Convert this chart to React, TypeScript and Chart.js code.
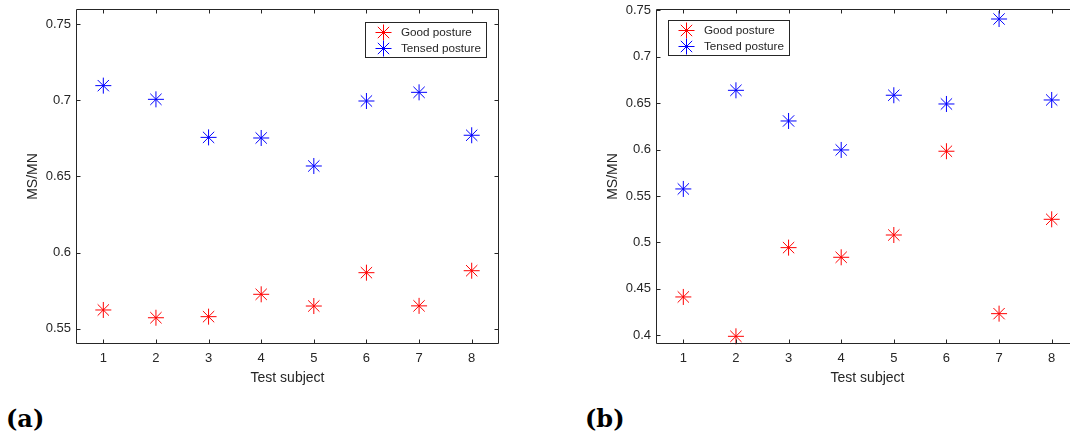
import React, { useEffect, useRef } from "react";
import { Chart, registerables } from "chart.js";

Chart.register(...registerables);

// ---- data ----
const subjects = [1, 2, 3, 4, 5, 6, 7, 8];
const xTickLabels = ["1", "2", "3", "4", "5", "6", "7", "8"];

const goodA = [0.5623, 0.5572, 0.5579, 0.5726, 0.5649, 0.5868, 0.565, 0.5881];
const tensedA = [0.7097, 0.7007, 0.6757, 0.6753, 0.6569, 0.6996, 0.7053, 0.6771];

const goodB = [0.4413, 0.3989, 0.4944, 0.484, 0.508, 0.5982, 0.4233, 0.5249];
const tensedB = [0.5576, 0.6638, 0.6308, 0.5996, 0.6585, 0.6491, 0.7406, 0.6534];

const yTicksA = [0.55, 0.6, 0.65, 0.7, 0.75];
const yTickLabelsA = ["0.55", "0.6", "0.65", "0.7", "0.75"];
const yTicksB = [0.4, 0.45, 0.5, 0.55, 0.6, 0.65, 0.7, 0.75];
const yTickLabelsB = ["0.4", "0.45", "0.5", "0.55", "0.6", "0.65", "0.7", "0.75"];

const seriesNames = ["Good posture", "Tensed posture"];
const seriesColors = ["#ff0000", "#0000ff"];

const AXIS_COLOR = "#262626";
const SANS = '"Liberation Sans", Arial, Helvetica, sans-serif';

// ---- plugins ----
const framePlugin = {
  id: "matlabFrame",
  afterDatasetsDraw(chart: any) {
    const { ctx, chartArea } = chart;
    const xs = chart.scales.x;
    const ys = chart.scales.y;
    const L = Math.round(chartArea.left) - 0.5;
    const T = Math.round(chartArea.top) - 0.5;
    const R = Math.round(chartArea.right) + 0.5;
    const B = Math.round(chartArea.bottom) + 0.5;
    const tl = 4;
    ctx.save();
    ctx.strokeStyle = AXIS_COLOR;
    ctx.lineWidth = 1;
    ctx.beginPath();
    ctx.moveTo(L, T);
    ctx.lineTo(R, T);
    ctx.lineTo(R, B);
    ctx.lineTo(L, B);
    ctx.closePath();
    for (const t of xs.ticks) {
      const px = Math.round(xs.getPixelForValue(t.value)) + 0.5;
      ctx.moveTo(px, B);
      ctx.lineTo(px, B - tl);
      ctx.moveTo(px, T);
      ctx.lineTo(px, T + tl);
    }
    for (const t of ys.ticks) {
      const py = Math.round(ys.getPixelForValue(t.value)) + 0.5;
      ctx.moveTo(L, py);
      ctx.lineTo(L + tl, py);
      ctx.moveTo(R, py);
      ctx.lineTo(R - tl, py);
    }
    ctx.stroke();
    ctx.restore();
  },
};

function drawStar(ctx: CanvasRenderingContext2D, x: number, y: number, r: number, color: string) {
  ctx.save();
  ctx.strokeStyle = color;
  ctx.lineWidth = 1;
  ctx.beginPath();
  ctx.moveTo(x - r, y);
  ctx.lineTo(x + r, y);
  ctx.moveTo(x, y - r);
  ctx.lineTo(x, y + r);
  const d = r * Math.SQRT1_2;
  ctx.moveTo(x - d, y - d);
  ctx.lineTo(x + d, y + d);
  ctx.moveTo(x + d, y - d);
  ctx.lineTo(x - d, y + d);
  ctx.stroke();
  ctx.restore();
}

const legendPlugin = {
  id: "matlabLegend",
  afterDraw(chart: any, _args: any, opts: any) {
    const { ctx, chartArea } = chart;
    ctx.save();
    ctx.font = `11.7px ${SANS}`;
    let maxW = 0;
    for (const n of seriesNames) maxW = Math.max(maxW, ctx.measureText(n).width);
    const w = Math.round(maxW + 36 + 5);
    const h = 35;
    let left: number;
    if (opts.anchor === "right") left = Math.round(chartArea.right - opts.dx - w);
    else left = Math.round(chartArea.left + opts.dx);
    const top = Math.round(chartArea.top + opts.dy);
    ctx.fillStyle = "#ffffff";
    ctx.fillRect(left, top, w, h);
    ctx.strokeStyle = AXIS_COLOR;
    ctx.lineWidth = 1;
    ctx.strokeRect(left + 0.5, top + 0.5, w, h);
    const rows = [10, 26];
    seriesNames.forEach((name, i) => {
      const cy = top + rows[i] + 0.5;
      drawStar(ctx, left + 18.5, cy, 8, seriesColors[i]);
      ctx.fillStyle = AXIS_COLOR;
      ctx.textAlign = "left";
      ctx.textBaseline = "middle";
      ctx.fillText(name, left + 36, cy);
    });
    ctx.restore();
  },
};

// ---- panel ----
type PanelProps = {
  left: number;
  canvasW: number;
  canvasH: number;
  good: number[];
  tensed: number[];
  yMin: number;
  yMax: number;
  yTicks: number[];
  yLabels: string[];
  padRight: number;
  yAxisWidth: number;
  yTitlePad: number;
  legend: { anchor: string; dx: number; dy: number };
};

function Panel(p: PanelProps) {
  const ref = useRef<HTMLCanvasElement | null>(null);
  useEffect(() => {
    if (!ref.current) return;
    const mk = (vals: number[]) => subjects.map((x, i) => ({ x, y: vals[i] }));
    const chart = new Chart(ref.current, {
      type: "scatter",
      data: {
        datasets: [
          {
            label: seriesNames[0],
            data: mk(p.good),
            pointStyle: "star",
            pointRadius: 8,
            pointHoverRadius: 8,
            borderColor: seriesColors[0],
            backgroundColor: seriesColors[0],
            borderWidth: 1,
            clip: false as any,
          },
          {
            label: seriesNames[1],
            data: mk(p.tensed),
            pointStyle: "star",
            pointRadius: 8,
            pointHoverRadius: 8,
            borderColor: seriesColors[1],
            backgroundColor: seriesColors[1],
            borderWidth: 1,
            clip: false as any,
          },
        ],
      },
      options: {
        responsive: false,
        animation: false,
        devicePixelRatio: 1,
        events: [],
        layout: { padding: { left: 0, top: 10, right: p.padRight, bottom: 0 } },
        plugins: {
          legend: { display: false },
          tooltip: { enabled: false },
          matlabLegend: p.legend,
        } as any,
        scales: {
          x: {
            type: "linear",
            min: 0.5,
            max: 8.5,
            grid: { display: false, drawTicks: false },
            border: { display: false },
            afterBuildTicks: (s: any) => {
              s.ticks = subjects.map((v) => ({ value: v }));
            },
            ticks: {
              padding: 7.5,
              autoSkip: false,
              maxRotation: 0,
              color: AXIS_COLOR,
              font: { family: SANS, size: 13 },
              callback: (_v: any, i: number) => xTickLabels[i],
            },
            title: {
              display: true,
              text: "Test subject",
              color: AXIS_COLOR,
              font: { family: SANS, size: 14 },
              padding: { top: 0, bottom: 13.3 },
            },
            afterFit: (s: any) => {
              s.height = p.canvasH - 343;
              s.paddingLeft = 0;
              s.paddingRight = 0;
              s.paddingTop = 0;
              s.paddingBottom = 0;
            },
          },
          y: {
            type: "linear",
            min: p.yMin,
            max: p.yMax,
            grid: { display: false, drawTicks: false },
            border: { display: false },
            afterBuildTicks: (s: any) => {
              s.ticks = p.yTicks.map((v) => ({ value: v }));
            },
            ticks: {
              padding: 6,
              autoSkip: false,
              color: AXIS_COLOR,
              font: { family: SANS, size: 13 },
              callback: (_v: any, i: number) => p.yLabels[i],
            },
            title: {
              display: true,
              text: "MS/MN",
              color: AXIS_COLOR,
              font: { family: SANS, size: 14 },
              padding: { top: p.yTitlePad, bottom: 0 },
            },
            afterFit: (s: any) => {
              s.width = p.yAxisWidth;
              s.paddingLeft = 0;
              s.paddingRight = 0;
              s.paddingTop = 0;
              s.paddingBottom = 0;
            },
          },
        },
      } as any,
      plugins: [framePlugin, legendPlugin],
    });
    return () => chart.destroy();
  }, []);
  return (
    <canvas
      ref={ref}
      width={p.canvasW}
      height={p.canvasH}
      style={{ position: "absolute", left: p.left, top: 0, width: p.canvasW, height: p.canvasH }}
    />
  );
}

const labelStyle: React.CSSProperties = {
  position: "absolute",
  top: 407,
  fontFamily: '"DejaVu Serif", serif',
  fontWeight: "bold",
  fontSize: 24,
  lineHeight: "24px",
  color: "#000",
  whiteSpace: "nowrap",
};

export default function App() {
  return (
    <div
      style={{
        position: "absolute",
        left: 0,
        top: 0,
        width: 1070,
        height: 436,
        overflow: "hidden",
        background: "#fff",
      }}
    >
      <Panel
        left={0}
        canvasW={540}
        canvasH={400}
        good={goodA}
        tensed={tensedA}
        yMin={0.5406}
        yMax={0.7594}
        yTicks={yTicksA}
        yLabels={yTickLabelsA}
        padRight={42}
        yAxisWidth={77}
        yTitlePad={24.9}
        legend={{ anchor: "right", dx: 12, dy: 12 }}
      />
      <Panel
        left={560}
        canvasW={540}
        canvasH={400}
        good={goodB}
        tensed={tensedB}
        yMin={0.3917}
        yMax={0.7503}
        yTicks={yTicksB}
        yLabels={yTickLabelsB}
        padRight={22}
        yAxisWidth={97}
        yTitlePad={44.9}
        legend={{ anchor: "left", dx: 11, dy: 10 }}
      />
      <div style={{ ...labelStyle, left: 6 }}>(a)</div>
      <div style={{ ...labelStyle, left: 585 }}>(b)</div>
    </div>
  );
}
